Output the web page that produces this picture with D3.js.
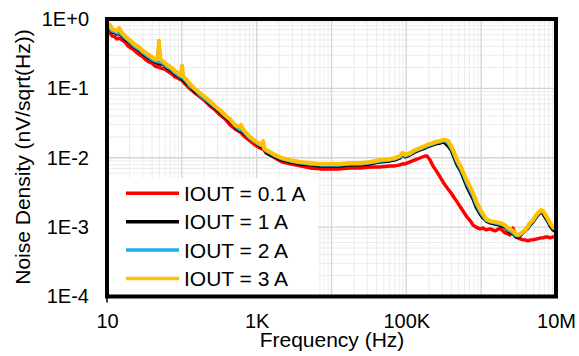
<!DOCTYPE html>
<html>
<head>
<meta charset="utf-8">
<script src="https://cdn.jsdelivr.net/npm/d3@7"></script>
<style>
  body { margin: 0; background: #fff; }
  svg { display: block; font-family: "Liberation Sans", Arial, sans-serif; }
</style>
</head>
<body>
<div id="chart-area"></div>
<script>
const freqHz = [10, 11.0, 11.7, 12.8, 13.6, 14.5, 15.9, 17.4, 19.1, 20.9,
  23.0, 25.2, 27.6, 30.3, 33.2, 36.4, 39.9, 43.8, 48.0, 49.5,
  51.1, 57.8, 61.4, 67.4, 73.9, 81.0, 88.9, 97.5, 100.5, 103.7,
  110, 129, 150, 175, 204, 238, 278, 324, 378, 440,
  514, 599, 618, 637, 699, 815, 950, 1108, 1178, 1215,
  1253, 1333, 1508, 1759, 2181, 2790, 3795, 5164, 7024, 9553,
  13000, 17680, 24050, 32720, 44500, 60500, 70600, 82300, 87600, 90300,
  96000, 112000, 130700, 152400, 177700, 189000, 207300, 227300, 241800, 282000,
  309300, 328900, 360700, 395600, 420700, 475800, 538200, 572300, 647300, 732100,
  778700, 854000, 965800, 1059000, 1162000, 1314000, 1532000, 1788000, 2085000, 2287000,
  2432000, 2667000, 2925000, 3111000, 3308000, 3628000, 3859000, 4232000, 4500000, 4936000,
  5583000, 6312000, 6714000, 7140000, 7831000, 8329000, 9133000, 10000000];

const iout01 = [0.608, 0.629, 0.569, 0.551, 0.515, 0.533, 0.498, 0.466, 0.408, 0.382,
  0.358, 0.324, 0.303, 0.283, 0.257, 0.240, 0.232, 0.210, 0.203, 0.482,
  0.197, 0.190, 0.184, 0.172, 0.161, 0.146, 0.141, 0.132, 0.210, 0.124,
  0.116, 0.0980, 0.0858, 0.0752, 0.0658, 0.0558, 0.0488, 0.0414, 0.0362, 0.0297,
  0.0260, 0.0235, 0.0235, 0.0220, 0.0199, 0.0175, 0.0153, 0.0138, 0.0134, 0.0153,
  0.0130, 0.0117, 0.0110, 0.00993, 0.00870, 0.00814, 0.00762, 0.00713, 0.00690, 0.00690,
  0.00690, 0.00713, 0.00713, 0.00737, 0.00737, 0.00762, 0.00762, 0.00788, 0.00814, 0.00814,
  0.00814, 0.00870, 0.00930, 0.00993, 0.0106, 0.0106, 0.00930, 0.00762, 0.00690, 0.00529,
  0.00448, 0.00406, 0.00355, 0.00311, 0.00281, 0.00231, 0.00189, 0.00171, 0.00140, 0.00119,
  0.00107, 0.00100, 0.000942, 0.000972, 0.000911, 0.000942, 0.000882, 0.000972, 0.000825, 0.000798,
  0.000772, 0.000972, 0.000722, 0.000699, 0.000676, 0.000654, 0.000654, 0.000633, 0.000654, 0.000654,
  0.000676, 0.000699, 0.000699, 0.000722, 0.000722, 0.000699, 0.000722, 0.000722];

const iout1 = [0.694, 0.718, 0.650, 0.629, 0.608, 0.629, 0.569, 0.515, 0.482, 0.436,
  0.395, 0.370, 0.346, 0.313, 0.293, 0.274, 0.257, 0.240, 0.232, 0.466,
  0.232, 0.217, 0.203, 0.190, 0.178, 0.161, 0.151, 0.141, 0.203, 0.132,
  0.124, 0.108, 0.0887, 0.0803, 0.0703, 0.0596, 0.0522, 0.0457, 0.0387, 0.0339,
  0.0278, 0.0243, 0.0243, 0.0243, 0.0220, 0.0193, 0.0169, 0.0148, 0.0143, 0.0163,
  0.0134, 0.0121, 0.0110, 0.0103, 0.00930, 0.00870, 0.00814, 0.00788, 0.00762, 0.00762,
  0.00762, 0.00788, 0.00788, 0.00814, 0.00870, 0.00899, 0.00930, 0.00993, 0.0110, 0.0110,
  0.0103, 0.0110, 0.0121, 0.0130, 0.0138, 0.0143, 0.0148, 0.0153, 0.0158, 0.0163,
  0.0169, 0.0163, 0.0148, 0.0130, 0.0110, 0.00788, 0.00625, 0.00529, 0.00380, 0.00291,
  0.00255, 0.00196, 0.00155, 0.00136, 0.00123, 0.00115, 0.00111, 0.00107, 0.00100, 0.000882,
  0.000853, 0.000798, 0.000722, 0.000722, 0.000747, 0.000825, 0.000882, 0.000972, 0.00107, 0.00119,
  0.00145, 0.00166, 0.00155, 0.00140, 0.00119, 0.00104, 0.000911, 0.000853];

const iout2 = [0.718, 0.742, 0.672, 0.650, 0.629, 0.650, 0.588, 0.533, 0.498, 0.451,
  0.408, 0.382, 0.358, 0.324, 0.303, 0.283, 0.265, 0.248, 0.240, 0.466,
  0.240, 0.225, 0.210, 0.197, 0.184, 0.167, 0.156, 0.146, 0.210, 0.141,
  0.132, 0.108, 0.0948, 0.0803, 0.0703, 0.0616, 0.0539, 0.0472, 0.0400, 0.0350,
  0.0287, 0.0252, 0.0260, 0.0252, 0.0228, 0.0193, 0.0169, 0.0153, 0.0148, 0.0163,
  0.0134, 0.0125, 0.0117, 0.0106, 0.00961, 0.00899, 0.00842, 0.00814, 0.00788, 0.00788,
  0.00788, 0.00814, 0.00814, 0.00842, 0.00899, 0.00930, 0.00961, 0.0103, 0.0113, 0.0113,
  0.0106, 0.0113, 0.0125, 0.0134, 0.0143, 0.0148, 0.0153, 0.0158, 0.0163, 0.0169,
  0.0175, 0.0175, 0.0163, 0.0138, 0.0121, 0.00870, 0.00668, 0.00585, 0.00419, 0.00321,
  0.00281, 0.00216, 0.00166, 0.00145, 0.00127, 0.00119, 0.00115, 0.00111, 0.00104, 0.000911,
  0.000882, 0.000825, 0.000747, 0.000747, 0.000772, 0.000825, 0.000882, 0.00100, 0.00111, 0.00123,
  0.00150, 0.00171, 0.00166, 0.00150, 0.00127, 0.00111, 0.000972, 0.000911];

const iout3 = [0.767, 0.820, 0.718, 0.694, 0.672, 0.742, 0.629, 0.569, 0.515, 0.482,
  0.436, 0.408, 0.382, 0.346, 0.324, 0.303, 0.283, 0.265, 0.265, 0.482,
  0.265, 0.240, 0.225, 0.210, 0.197, 0.178, 0.167, 0.156, 0.210, 0.151,
  0.141, 0.116, 0.098, 0.0858, 0.0752, 0.0658, 0.0558, 0.0488, 0.0414, 0.0362,
  0.0297, 0.0278, 0.0297, 0.0269, 0.0235, 0.0199, 0.0175, 0.0158, 0.0153, 0.0175,
  0.0138, 0.0130, 0.0121, 0.0110, 0.00993, 0.00930, 0.00870, 0.00842, 0.00814, 0.00814,
  0.00814, 0.00842, 0.00842, 0.00870, 0.00930, 0.00961, 0.00993, 0.0106, 0.0117, 0.0117,
  0.0110, 0.0117, 0.0130, 0.0138, 0.0148, 0.0153, 0.0158, 0.0163, 0.0169, 0.0175,
  0.0181, 0.0181, 0.0175, 0.0148, 0.0130, 0.00930, 0.00737, 0.00625, 0.00463, 0.00355,
  0.00311, 0.00239, 0.00183, 0.00155, 0.00131, 0.00123, 0.00119, 0.00115, 0.00107, 0.000972,
  0.000942, 0.000882, 0.000798, 0.000772, 0.000798, 0.000853, 0.000911, 0.00104, 0.00115, 0.00127,
  0.00155, 0.00177, 0.00171, 0.00155, 0.00131, 0.00115, 0.00100, 0.000942];

const seriesNames = ["IOUT = 0.1 A", "IOUT = 1 A", "IOUT = 2 A", "IOUT = 3 A"];
const seriesColors = ["#ff0000", "#000000", "#1fb0e6", "#ffc000"];
const xTicks = [10, 1e3, 1e5, 1e7];
const xTickLabels = ["10", "1K", "100K", "10M"];
const yTicks = [1, 0.1, 0.01, 0.001, 0.0001];
const yTickLabels = ["1E+0", "1E-1", "1E-2", "1E-3", "1E-4"];

const W = 579, H = 356;
const margin = { top: 19, right: 23, bottom: 59.5, left: 107 };
const width = W - margin.left - margin.right;
const height = H - margin.top - margin.bottom;

const svg = d3.select("#chart-area")
  .append("svg")
  .attr("width", W)
  .attr("height", H);

const g = svg.append("g")
  .attr("transform", `translate(${margin.left}, ${margin.top})`);

const x = d3.scaleLog().domain([10, 1e7]).range([0, width]);
const y = d3.scaleLog().domain([1e-4, 1]).range([height, 0]);

// minor + major grid
const minorX = [];
for (let e = 1; e < 7; e++) for (let m = 2; m <= 9; m++) minorX.push(m * Math.pow(10, e));
const minorY = [];
for (let e = -4; e < 0; e++) for (let m = 2; m <= 9; m++) minorY.push(m * Math.pow(10, e));

g.selectAll(".minor-x").data(minorX).enter().append("line")
  .attr("x1", d => x(d)).attr("x2", d => x(d))
  .attr("y1", 0).attr("y2", height)
  .attr("stroke", "#ececec").attr("stroke-width", 1);

g.selectAll(".minor-y").data(minorY).enter().append("line")
  .attr("x1", 0).attr("x2", width)
  .attr("y1", d => y(d)).attr("y2", d => y(d))
  .attr("stroke", "#ececec").attr("stroke-width", 1);

g.selectAll(".major-x").data([100, 1e3, 1e4, 1e5, 1e6]).enter().append("line")
  .attr("x1", d => x(d)).attr("x2", d => x(d))
  .attr("y1", 0).attr("y2", height)
  .attr("stroke", "#d4d4d4").attr("stroke-width", 1.3);

g.selectAll(".major-y").data([0.1, 0.01, 0.001]).enter().append("line")
  .attr("x1", 0).attr("x2", width)
  .attr("y1", d => y(d)).attr("y2", d => y(d))
  .attr("stroke", "#d4d4d4").attr("stroke-width", 1.3);

// curves
svg.append("defs").append("clipPath").attr("id", "clip")
  .append("rect").attr("width", width).attr("height", height);

const line = d3.line()
  .x(d => x(d[0]))
  .y(d => y(d[1]));

const allSeries = [iout01, iout1, iout2, iout3];
const curves = g.append("g").attr("clip-path", "url(#clip)");
allSeries.forEach((vals, i) => {
  curves.append("path")
    .datum(freqHz.map((f, j) => [f, vals[j]]))
    .attr("d", line)
    .attr("fill", "none")
    .attr("stroke", seriesColors[i])
    .attr("stroke-width", i === 3 ? 4 : 3.4)
    .attr("stroke-linejoin", "round")
    .attr("stroke-linecap", "round");
});

// legend
const legend = g.append("g");
legend.append("rect")
  .attr("x", 0).attr("y", 159)
  .attr("width", 211).attr("height", height - 159)
  .attr("fill", "#fff");

seriesNames.forEach((name, i) => {
  const row = legend.append("g")
    .attr("transform", `translate(0, ${174.3 + i * 28.4})`);
  row.append("line")
    .attr("x1", 19).attr("x2", 72)
    .attr("stroke", seriesColors[i])
    .attr("stroke-width", 3.5);
  row.append("text")
    .attr("x", 77)
    .attr("y", 7.5)
    .attr("font-size", "21px")
    .attr("fill", "#000")
    .text(name);
});

// frame
g.append("rect")
  .attr("width", width).attr("height", height)
  .attr("fill", "none")
  .attr("stroke", "#000")
  .attr("stroke-width", 4);

// axes
const xAxis = d3.axisBottom(x)
  .tickValues(xTicks)
  .tickFormat((d, i) => xTickLabels[i])
  .tickSize(0)
  .tickPadding(17);

const yAxis = d3.axisLeft(y)
  .tickValues(yTicks)
  .tickFormat((d, i) => yTickLabels[i])
  .tickSize(0)
  .tickPadding(18);

const xAxisGroup = g.append("g")
  .attr("transform", `translate(0, ${height})`)
  .call(xAxis);
const yAxisGroup = g.append("g").call(yAxis);

[xAxisGroup, yAxisGroup].forEach(ax => {
  ax.select(".domain").remove();
  ax.selectAll("text")
    .attr("font-size", "20px")
    .attr("font-family", "'Liberation Sans', Arial, sans-serif")
    .attr("fill", "#000");
});

// small tick at the lower-left corner
g.append("line")
  .attr("x1", 0).attr("x2", 0)
  .attr("y1", height).attr("y2", height + 6)
  .attr("stroke", "#000").attr("stroke-width", 1.5);

svg.append("text")
  .attr("x", 332)
  .attr("y", 347)
  .attr("text-anchor", "middle")
  .attr("font-size", "21px")
  .attr("fill", "#000")
  .text("Frequency (Hz)");

svg.append("text")
  .attr("transform", "translate(30, 157) rotate(-90)")
  .attr("text-anchor", "middle")
  .attr("font-size", "21px")
  .attr("fill", "#000")
  .text("Noise Density (nV/sqrt(Hz))");
</script>
</body>
</html>
